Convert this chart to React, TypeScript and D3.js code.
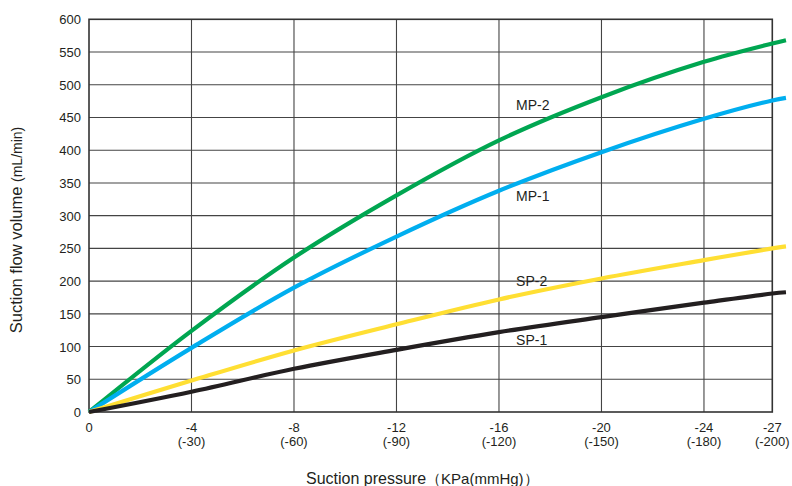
import React from "react";
import * as d3 from "d3";

// x in mmHg (absolute), matching kPa ticks
const pressureMmHg = [0, 30, 60, 90, 120, 150, 180, 200, 204];
const mp2 = [0, 124, 236, 331, 415, 481, 535, 563, 568];
const mp1 = [0, 98, 190, 268, 338, 397, 448, 476, 480];
const sp2 = [0, 48, 94, 134, 172, 204, 232, 250, 253];
const sp1 = [0, 31, 66, 95, 122, 145, 167, 181, 183];

const xTickMmHg = [0, 30, 60, 90, 120, 150, 180, 200];
const xTickKPa = ["0", "-4", "-8", "-12", "-16", "-20", "-24", "-27"];
const xTickMm = ["", "(-30)", "(-60)", "(-90)", "(-120)", "(-150)", "(-180)", "(-200)"];
const yTicks = [0, 50, 100, 150, 200, 250, 300, 350, 400, 450, 500, 550, 600];

const seriesNames = ["MP-2", "MP-1", "SP-2", "SP-1"];
const seriesValues = [mp2, mp1, sp2, sp1];
const seriesColors = ["#00a651", "#00aeef", "#ffdf33", "#231f20"];
const labelValues = [[125, 461], [125, 322], [125, 192], [125, 102]];

export default function App() {
  const W = 792, H = 486;
  const left = 89, right = 772.3, top = 19.3, bottom = 412;
  const x = d3.scaleLinear().domain([0, 200]).range([left, right]);
  const y = d3.scaleLinear().domain([0, 600]).range([bottom, top]);
  const font = "'Liberation Sans', Arial, Helvetica, sans-serif";

  const line = d3
    .line<[number, number]>()
    .x((d) => x(d[0]))
    .y((d) => y(d[1]))
    .curve(d3.curveCatmullRom.alpha(0.5));

  return (
    <svg
      width={W}
      height={H}
      style={{ position: "absolute", left: 0, top: 0, background: "#fff" }}
      fontFamily={font}
    >
      {/* grid */}
      {yTicks.slice(1, -1).map((v) => (
        <line key={"h" + v} x1={left} x2={right} y1={y(v)} y2={y(v)} stroke="#444" strokeWidth={1.1} />
      ))}
      {xTickMmHg.slice(1, -1).map((v) => (
        <line key={"v" + v} x1={x(v)} x2={x(v)} y1={top} y2={bottom} stroke="#444" strokeWidth={1.1} />
      ))}
      {/* frame */}
      <rect x={left} y={top} width={right - left} height={bottom - top} fill="none" stroke="#333" strokeWidth={1.6} />

      {/* curves */}
      {seriesValues.map((vals, i) => (
        <path
          key={seriesNames[i]}
          d={line(pressureMmHg.map((p, j) => [p, vals[j]] as [number, number])) || ""}
          fill="none"
          stroke={seriesColors[i]}
          strokeWidth={4.2}
        />
      ))}

      {/* series labels */}
      {seriesNames.map((n, i) => (
        <text key={"l" + n} x={x(labelValues[i][0])} y={y(labelValues[i][1])} fontSize={14} fill="#231f20">
          {n}
        </text>
      ))}

      {/* y tick labels */}
      {yTicks.map((v) => (
        <text key={"yt" + v} x={81} y={y(v) + 5} fontSize={13} textAnchor="end" fill="#231f20">
          {v}
        </text>
      ))}

      {/* x tick labels */}
      {xTickMmHg.map((v, i) => (
        <g key={"xt" + v}>
          <text x={x(v)} y={431.5} fontSize={13} textAnchor="middle" fill="#231f20">
            {xTickKPa[i]}
          </text>
          {xTickMm[i] && (
            <text x={x(v)} y={445.5} fontSize={13} textAnchor="middle" fill="#231f20">
              {xTickMm[i]}
            </text>
          )}
        </g>
      ))}

      {/* axis titles */}
      <text x={306} y={484} fill="#231f20">
        <tspan fontSize={16}>Suction pressure</tspan>
        <tspan fontSize={15}>（KPa(mmHg)）</tspan>
      </text>
      <text transform="translate(22,230) rotate(-90)" textAnchor="middle" fill="#231f20">
        <tspan fontSize={16.5}>Suction flow volume </tspan>
        <tspan fontSize={14}>(mL/min)</tspan>
      </text>
    </svg>
  );
}
